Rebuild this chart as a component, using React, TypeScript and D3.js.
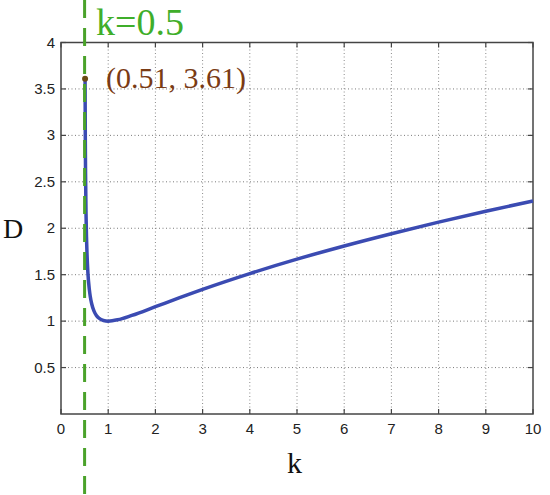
import React from "react";
import * as d3 from "d3";

const kValues = [0.51, 0.515, 0.52, 0.53, 0.54, 0.55, 0.57, 0.6, 0.62, 0.65, 0.7, 0.75, 0.8, 0.9, 1, 1.2, 1.5, 2, 2.5, 3, 4, 5, 6, 7, 8, 9, 10];
const dValues = [3.61, 2.97, 2.6, 2.16, 1.91, 1.74, 1.52, 1.342, 1.266, 1.187, 1.107, 1.061, 1.033, 1.006, 1.0, 1.014, 1.061, 1.155, 1.25, 1.342, 1.512, 1.667, 1.809, 1.941, 2.066, 2.183, 2.294];
const xTicks = [0, 1, 2, 3, 4, 5, 6, 7, 8, 9, 10];
const yTicks = [0.5, 1, 1.5, 2, 2.5, 3, 3.5, 4];
const markerK = 0.51;
const markerD = 3.61;
const markerLabel = "(0.51, 3.61)";
const refK = 0.5;
const refLabel = "k=0.5";
const xLabel = "k";
const yLabel = "D";

const W = 550, H = 495;
const L = 61, R = 533, T = 42.5, B = 414;

export default function App() {
  const x = d3.scaleLinear().domain([0, 10]).range([L, R]);
  const y = d3.scaleLinear().domain([0, 4]).range([B, T]);
  const pts = kValues.map((k, i) => [k, dValues[i]] as [number, number]);
  const line = d3.line<[number, number]>().x(d => x(d[0])).y(d => y(d[1])).curve(d3.curveMonotoneX);
  const sans = "'Liberation Sans', Arial, sans-serif";
  const serif = "'Liberation Serif', 'Times New Roman', serif";
  const axisColor = "#444";
  return (
    <div style={{ position: "fixed", left: 0, top: 0 }}>
      <svg width={W} height={H} style={{ display: "block", background: "#fff" }}>
        <rect x={0} y={0} width={W} height={H} fill="#fff" />
        {xTicks.filter(t => t > 0 && t < 10).map(t => (
          <line key={"gx" + t} x1={x(t)} x2={x(t)} y1={T} y2={B} stroke="#8a8a8a" strokeWidth={1} strokeDasharray="1,2.5" />
        ))}
        {yTicks.filter(t => t < 4).map(t => (
          <line key={"gy" + t} x1={L} x2={R} y1={y(t)} y2={y(t)} stroke="#7a7a7a" strokeWidth={1} strokeDasharray="1,2.5" />
        ))}
        {xTicks.map(t => (
          <g key={"tx" + t}>
            <line x1={x(t)} x2={x(t)} y1={B} y2={B - 5} stroke={axisColor} strokeWidth={1.2} />
            <line x1={x(t)} x2={x(t)} y1={T} y2={T + 5} stroke={axisColor} strokeWidth={1.2} />
            <text x={x(t)} y={433.5} textAnchor="middle" fontFamily={sans} fontSize={15} fill="#222">{t}</text>
          </g>
        ))}
        {yTicks.map(t => (
          <g key={"ty" + t}>
            <line x1={L} x2={L + 5} y1={y(t)} y2={y(t)} stroke={axisColor} strokeWidth={1.2} />
            <line x1={R} x2={R - 5} y1={y(t)} y2={y(t)} stroke={axisColor} strokeWidth={1.2} />
            <text x={L - 6} y={y(t) + 5} textAnchor="end" fontFamily={sans} fontSize={15} fill="#222">{t}</text>
          </g>
        ))}
        <rect x={L} y={T} width={R - L} height={B - T} fill="none" stroke={axisColor} strokeWidth={1.5} />
        <path d={line(pts) || ""} fill="none" stroke="#3b4bb2" strokeWidth={3.5} />
        <line x1={x(refK)} x2={x(refK)} y1={0} y2={H} stroke="#4aa22a" strokeWidth={3} strokeDasharray="18,10" />
        <text x={96} y={35} fontFamily={serif} fontSize={38} fill="#3fae2a">{refLabel}</text>
        <circle cx={x(markerK)} cy={y(markerD)} r={3} fill="#6b4a14" />
        <text x={106} y={88} fontFamily={serif} fontSize={30} fill="#7a3b14">{markerLabel}</text>
        <text x={3} y={238} fontFamily={serif} fontSize={28} fill="#111">{yLabel}</text>
        <text x={287} y={473} fontFamily={serif} fontSize={30} fill="#111">{xLabel}</text>
      </svg>
    </div>
  );
}
